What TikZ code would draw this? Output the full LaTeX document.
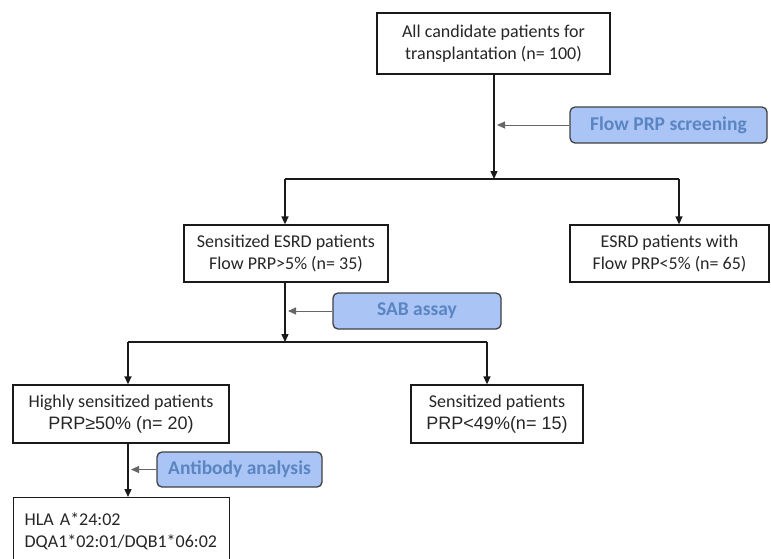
\documentclass[tikz,border=0pt]{standalone}
\usepackage{fontspec}
\setmainfont{Carlito}
\newfontfamily\arialf{Liberation Sans}
\usetikzlibrary{arrows.meta,calc}
\definecolor{bluefill}{HTML}{A9C4F5}
\definecolor{bluetext}{HTML}{5A85C2}
\definecolor{lineblk}{HTML}{1A1A1A}
\begin{document}
\begin{tikzpicture}[x=1pt,y=-1pt,
  box/.style={draw=lineblk, line width=1.3pt, fill=white, inner sep=0pt, align=center,
    font=\fontsize{18}{22}\selectfont, text=black!85},
  tag/.style={draw=black!75, line width=1.3pt, fill=bluefill, rounded corners=5pt, inner sep=0pt,
    font=\fontsize{19.5}{22}\selectfont\bfseries, text=bluetext},
  flowline/.style={draw=lineblk, line width=1.3pt},
  arr/.style={flowline, -{Triangle[length=8pt,width=7pt]}},
  sidearr/.style={draw=black!60, line width=1pt, -{Triangle[length=8pt,width=7pt]}, shorten >=3pt}]
\useasboundingbox (0,0) rectangle (771,558);
\clip (0,0) rectangle (771,558);
% boxes
\node[box, minimum width=233pt, minimum height=61pt] (top) at (493.5,43.5)
  {All candidate patients for\\transplantation (n= 100)};
\node[tag, minimum width=197pt, minimum height=36pt] (flow) at (668.5,125) {Flow PRP screening};
\node[box, minimum width=204pt, minimum height=57pt] (sens) at (286,253.5)
  {Sensitized ESRD patients\\Flow PRP>5\% (n= 35)};
\node[box, minimum width=199pt, minimum height=57pt] (esrd) at (669.5,253.5)
  {ESRD patients with\\Flow PRP<5\% (n= 65)};
\node[tag, minimum width=168pt, minimum height=36pt] (sab) at (417,311) {SAB assay};
\node[box, minimum width=216pt, minimum height=58pt] (hs) at (121,414)
  {Highly sensitized patients\\{\arialf PRP≥50\% (n= 20)}};
\node[box, minimum width=172pt, minimum height=58pt] (sp) at (497,414)
  {Sensitized patients\\{\arialf PRP<49\%(n= 15)}};
\node[tag, minimum width=165pt, minimum height=35pt] (ab) at (239.5,469.5) {Antibody analysis};
\node[box, anchor=north west, align=left, text width=194pt, inner xsep=11pt, inner ysep=15pt]
  (hla) at (13,497)
  {HLA A*24:02\\DQA1*02:01/DQB1*06:02};
% junctions
\coordinate (j1) at (494,179);
\coordinate (j1L) at (285,179);
\coordinate (j1R) at (679,179);
\coordinate (j2) at (285,342);
\coordinate (j2L) at (128,342);
\coordinate (j2R) at (487,342);
% connectors
\draw[arr] (top.south -| j1) -- (j1);
\draw[flowline] (j1L) -- (j1R);
\draw[arr] (j1L) -- (j1L |- sens.north);
\draw[arr] (j1R) -- (j1R |- esrd.north);
\draw[sidearr] (flow.west) -- (flow.west -| j1);
\draw[arr] (sens.south -| j2) -- (j2);
\draw[flowline] (j2L) -- (j2R);
\draw[arr] (j2L) -- (j2L |- hs.north);
\draw[arr] (j2R) -- (j2R |- sp.north);
\draw[sidearr] (sab.west) -- (sab.west -| j2);
\draw[arr] (hs.south -| j2L) -- (j2L |- hla.north);
\draw[sidearr] (ab.west) -- (ab.west -| j2L);
\end{tikzpicture}
\end{document}
